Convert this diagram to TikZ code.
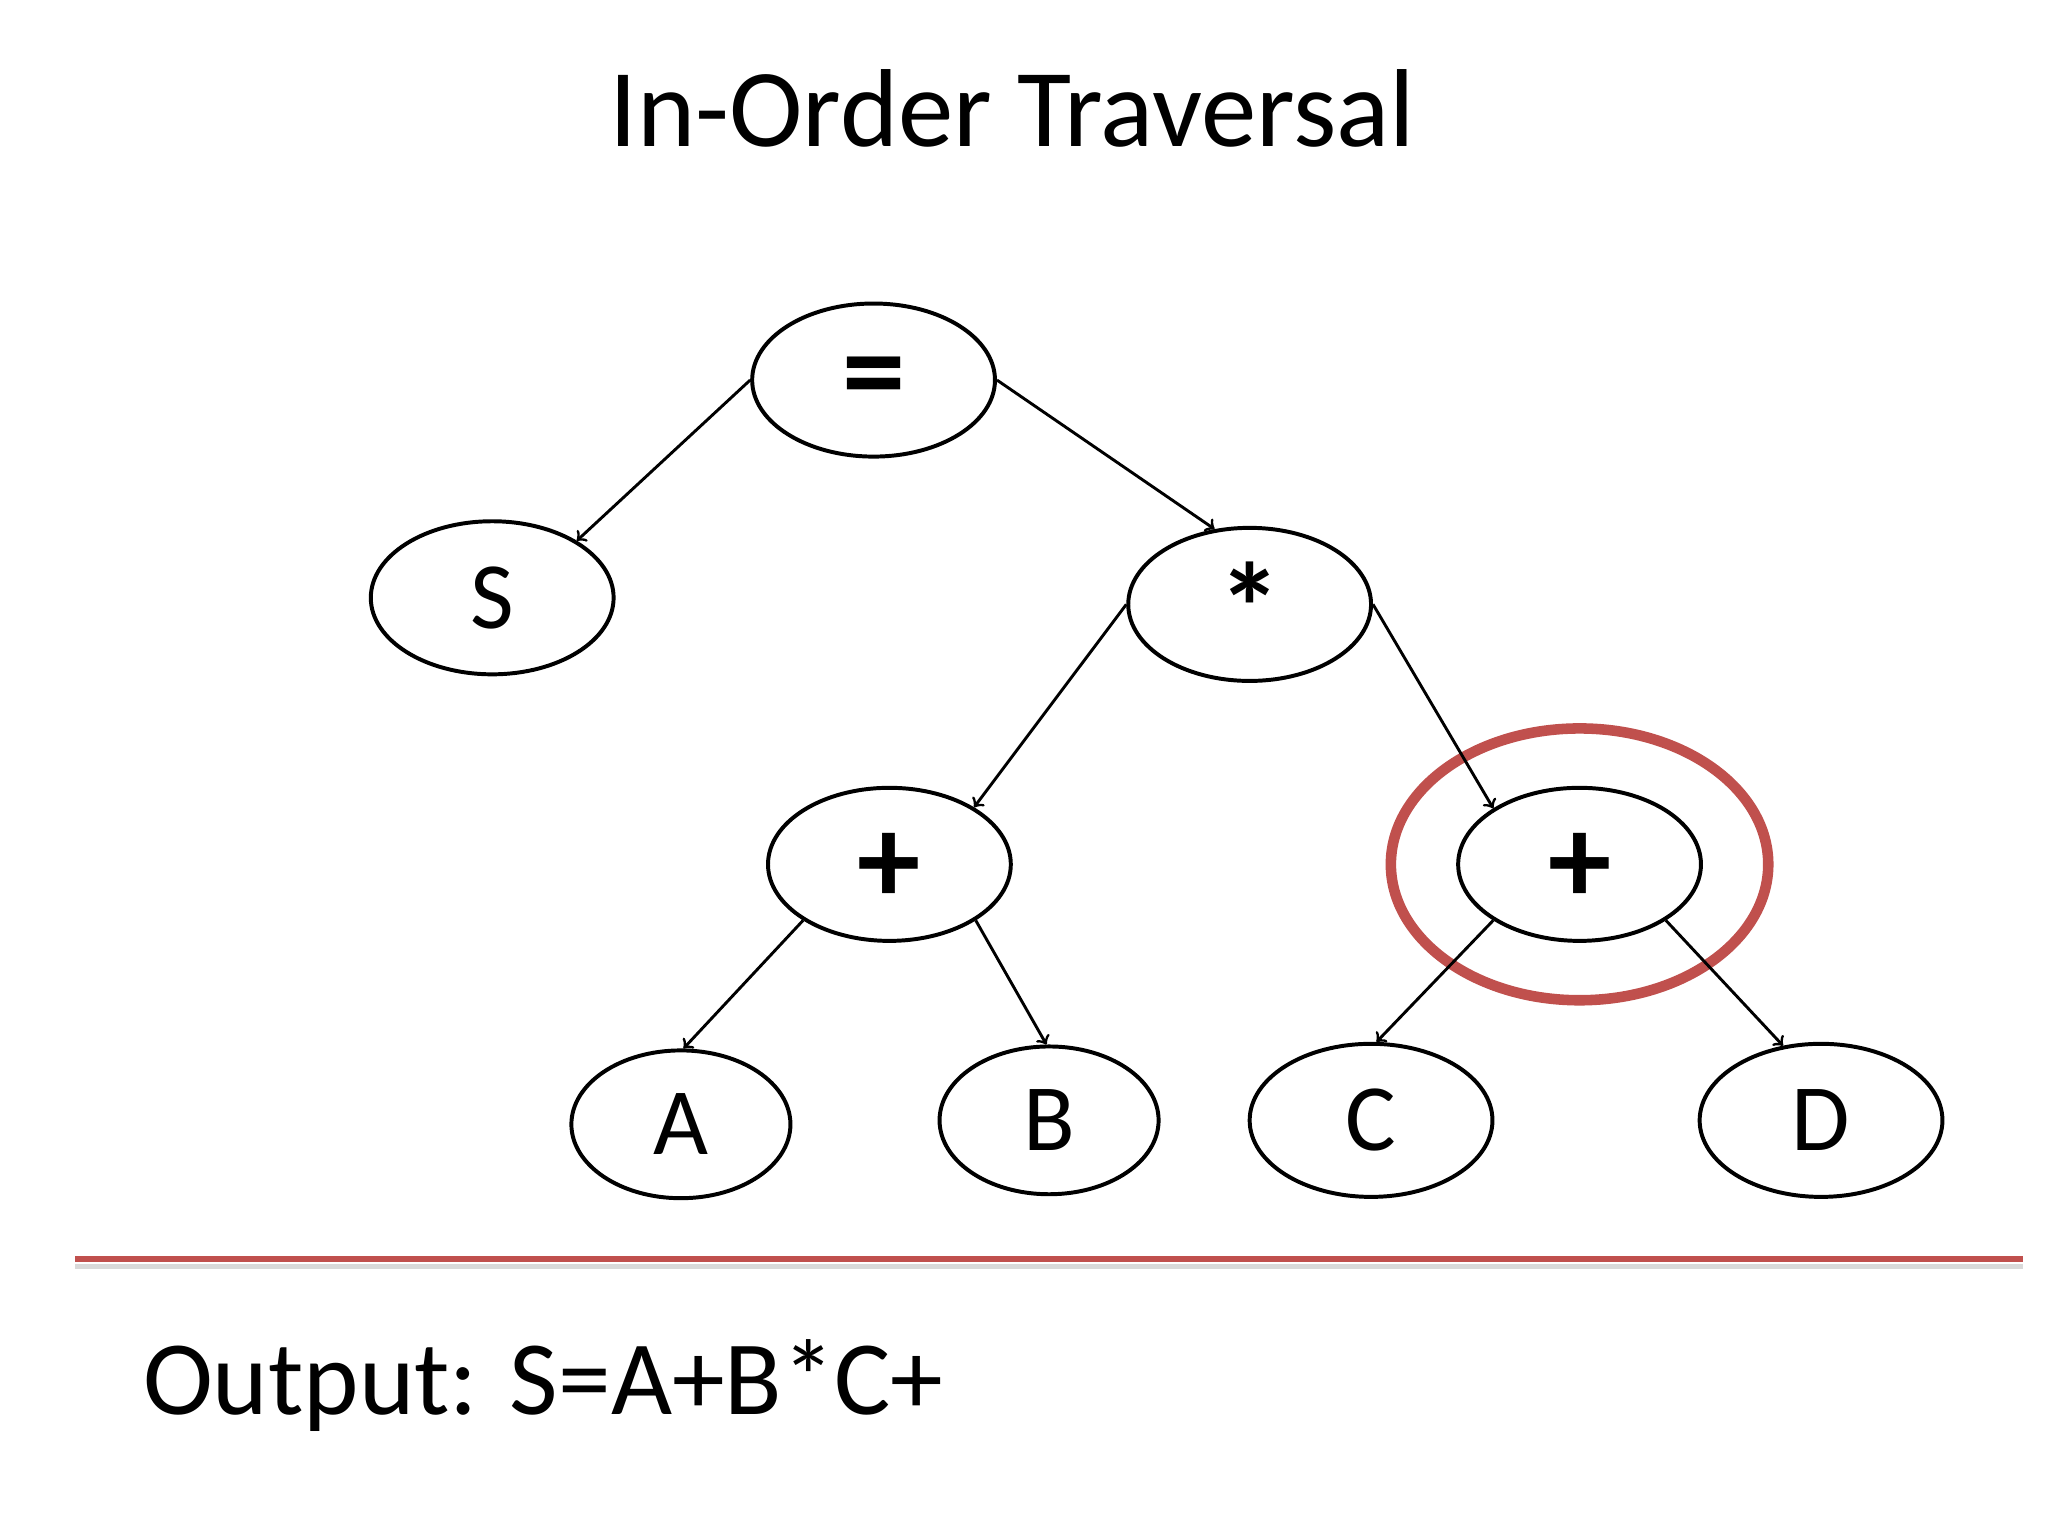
\documentclass[tikz,border=0pt]{standalone}
\usepackage{fontspec}
\setmainfont{Carlito}
\usetikzlibrary{shapes.geometric}
\begin{document}
\begin{tikzpicture}[x=0.5pt,y=-0.5pt,
  nd/.style={draw,ellipse,line width=1.5pt,inner sep=0pt,minimum width=92pt,minimum height=58pt,font=\fontsize{36}{40}\selectfont},
  sm/.style={nd,minimum width=83pt,minimum height=56pt},
  op/.style={font=\fontsize{48}{50}\selectfont\bfseries},
  ar/.style={->,line width=1.1pt,>=to}]
\useasboundingbox (0,0) rectangle (1552,1164);
\fill[white] (0,0) rectangle (1552,1164);
\node at (767,82) {\fontsize{42}{46}\selectfont In-Order Traversal};
\node[nd] (eq) at (662,288) {};
\node[op] at (662,292) {=};
\node[nd] (S) at (373,453) {S};
\node[nd] (mul) at (947,458) {};
\node[op] at (947,460) {*};
\node[nd] (pl) at (674,655) {};
\node[op] at (674,658) {+};
\node[nd] (pr) at (1197,655) {};
\node[op] at (1197,658) {+};
\node[sm] (A) at (516,852) {A};
\node[sm] (B) at (795,849) {B};
\node[nd] (C) at (1039,849) {C};
\node[nd] (D) at (1380,849) {D};
\draw[color={rgb,255:red,192;green,80;blue,77},line width=4pt] (1197,655) ellipse [x radius=143,y radius=103];
\draw[ar] (eq.180) -- (S.34);
\draw[ar] (eq.0) -- (mul.115);
\draw[ar] (mul.180) -- (pl.34);
\draw[ar] (mul.0) -- (pr.147);
\draw[ar] (pl.213) -- (A.88);
\draw[ar] (pl.-33) -- (B.92);
\draw[ar] (pr.213) -- (C.86);
\draw[ar] (pr.-33) -- (D.117);
\draw[gray!30,line width=2pt] (57,960) -- (1533,960);
\draw[color={rgb,255:red,192;green,80;blue,77},line width=2pt] (57,954) -- (1533,954);
\node[anchor=base west,inner sep=0pt] at (108,1072) {\fontsize{40}{44}\selectfont Output: S=A+B*C+};
\end{tikzpicture}
\end{document}
